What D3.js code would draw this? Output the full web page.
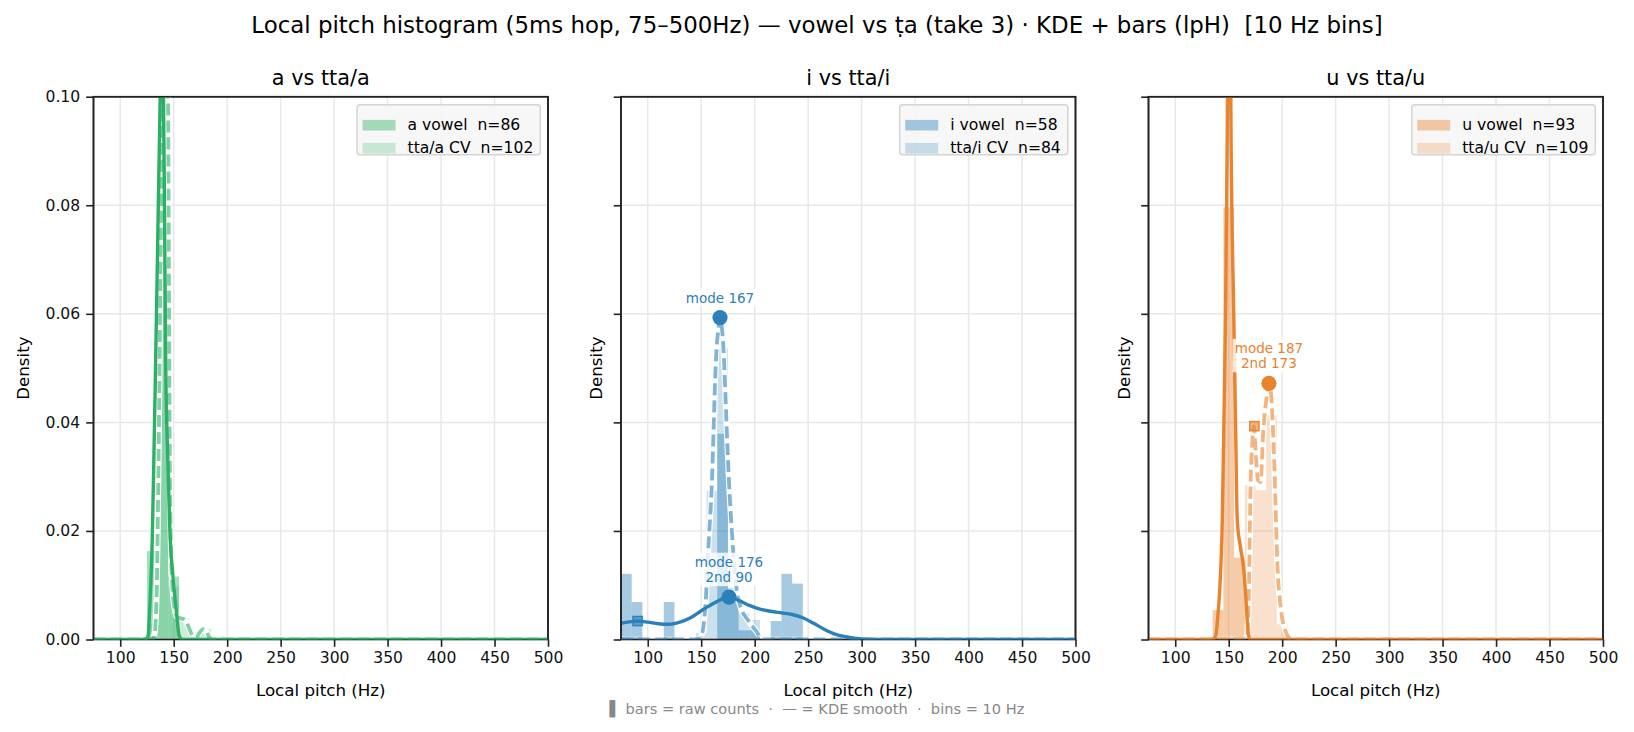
<!DOCTYPE html>
<html>
<head>
<meta charset="utf-8">
<script src="https://cdn.jsdelivr.net/npm/d3@7"></script>
<style>
  body { margin: 0; background: #fff; }
  text { font-family: "DejaVu Sans", sans-serif; }
</style>
</head>
<body>
<div id="chart"></div>
<script>
// ---------- data ----------
var binWidth = 10;
var xTicks = [100, 150, 200, 250, 300, 350, 400, 450, 500];
var yTicks = [0, 0.02, 0.04, 0.06, 0.08, 0.10];

// a vs tta/a : bar densities by bin lower edge
var aVowelBins = [125, 135, 145];
var aVowelDens = [0.0163, 0.0721, 0.0116];
var aCvBins = [125, 135, 145, 155, 165, 175];
var aCvDens = [0.0029, 0.0804, 0.0098, 0.0039, 0.0010, 0.0020];
// KDE curves (Hz, density)
var aVowelKdeX = [75, 120, 124, 126, 128, 130, 131.5, 133, 135, 137, 138.5, 139.5, 140.5, 141.5, 142.5, 144.5, 146.3, 149.4, 152.5, 155, 158, 200, 500];
var aVowelKdeY = [0, 0, 0.0001, 0.0006, 0.0075, 0.019, 0.034, 0.05, 0.073, 0.096, 0.112, 0.112, 0.099, 0.077, 0.0515, 0.033, 0.0207, 0.0114, 0.0052, 0.0008, 0, 0, 0];
var aCvKdeX = [75, 130, 132, 134, 135, 136, 137, 138.3, 139.5, 141, 142.5, 144, 145, 145.7, 146.3, 147.3, 149, 151, 153, 156, 159, 162, 165, 168, 171, 174, 177.5, 180.5, 183, 185.5, 188, 500];
var aCvKdeY = [0, 0, 0.001, 0.008, 0.02, 0.036, 0.055, 0.08, 0.1, 0.125, 0.13, 0.115, 0.09, 0.06, 0.035, 0.018, 0.009, 0.0055, 0.0042, 0.0039, 0.0038, 0.0032, 0.0018, 0.0006, 0.0004, 0.0012, 0.0019, 0.0015, 0.0005, 0.0001, 0, 0];

// i vs tta/i
var iVowelBins = [75, 85, 115, 165, 175, 185, 195, 215, 225, 235];
var iVowelDens = [0.0121, 0.0069, 0.0069, 0.0379, 0.0069, 0.0017, 0.0017, 0.0034, 0.0121, 0.0103];
var iCvBins = [145, 155, 165, 175, 185, 195];
var iCvDens = [0.0012, 0.0274, 0.0536, 0.0095, 0.0048, 0.0036];
var iVowelKdeX = [75, 85, 90, 100, 110, 120, 130, 140, 150, 160, 170, 176, 185, 195, 205, 215, 225, 235, 245, 255, 265, 275, 285, 300, 320, 500];
var iVowelKdeY = [0.0030, 0.0033, 0.0034, 0.0032, 0.0029, 0.0028, 0.0032, 0.0040, 0.0053, 0.0065, 0.0075, 0.0078, 0.0072, 0.0063, 0.0056, 0.0052, 0.0049, 0.0046, 0.0040, 0.0030, 0.0019, 0.0010, 0.0005, 0.0001, 0, 0];
var iCvKdeX = [75, 140, 148, 150, 152, 154.5, 156.7, 158.5, 160, 161.5, 163, 164.5, 166, 167.6, 169, 170.7, 172.3, 173.9, 176, 178.6, 181, 183.3, 186, 188, 191, 194, 198, 202, 206.6, 210, 500];
var iCvKdeY = [0, 0, 0.0001, 0.0006, 0.0023, 0.008, 0.017, 0.023, 0.029, 0.038, 0.0478, 0.054, 0.057, 0.0593, 0.058, 0.054, 0.047, 0.0386, 0.029, 0.0201, 0.0135, 0.009, 0.0065, 0.0053, 0.0043, 0.0035, 0.0024, 0.0014, 0.0001, 0, 0];
var iModeX = [167.6, 176];
var iModeY = [0.0593, 0.0078];
var iModeText = [["mode 167"], ["mode 176", "2nd 90"]];
var i2ndX = [90.5];
var i2ndY = [0.0034];

// u vs tta/u
var uVowelBins = [135, 145, 155];
var uVowelDens = [0.0054, 0.0796, 0.0151];
var uCvBins = [165, 175, 185, 195];
var uCvDens = [0.0284, 0.0275, 0.0413, 0.0028];
var uVowelKdeX = [75, 134, 136.5, 138, 139.5, 141.7, 144, 145.5, 147, 148.5, 150.5, 152.3, 154.8, 156.4, 158, 161, 164.2, 166.4, 168.3, 170, 500];
var uVowelKdeY = [0, 0, 0.0002, 0.0008, 0.0035, 0.0096, 0.022, 0.040, 0.059, 0.09, 0.14, 0.09, 0.059, 0.040, 0.022, 0.017, 0.0127, 0.0066, 0.0011, 0, 0];
var uCvKdeX = [75, 164, 166, 167.3, 168.8, 170.4, 172, 173.5, 175.1, 177.3, 179.8, 182.3, 185.4, 187.6, 189.3, 190.7, 192.2, 193.8, 195.4, 198.5, 203.2, 207.9, 210, 500];
var uCvKdeY = [0, 0, 0.0001, 0.0008, 0.008, 0.028, 0.036, 0.0393, 0.035, 0.0294, 0.029, 0.0383, 0.0445, 0.0472, 0.046, 0.0417, 0.035, 0.0247, 0.0144, 0.0062, 0.0015, 0.0001, 0, 0];
var uModeX = [187.6];
var uModeY = [0.0472];
var uModeText = [["mode 187", "2nd 173"]];
var u2ndX = [174];
var u2ndY = [0.0393];

function zip(a, b) { return a.map(function(v, k) { return [v, b[k]]; }); }

var panels = [
  { title: "a vs tta/a", color: "#2cb065", vowelLabel: "a vowel  n=86", cvLabel: "tta/a CV  n=102",
    vowelBars: zip(aVowelBins, aVowelDens), cvBars: zip(aCvBins, aCvDens),
    vowelKde: zip(aVowelKdeX, aVowelKdeY), cvKde: zip(aCvKdeX, aCvKdeY),
    modes: [], seconds: [] },
  { title: "i vs tta/i", color: "#2b80ba", vowelLabel: "i vowel  n=58", cvLabel: "tta/i CV  n=84",
    vowelBars: zip(iVowelBins, iVowelDens), cvBars: zip(iCvBins, iCvDens),
    vowelKde: zip(iVowelKdeX, iVowelKdeY), cvKde: zip(iCvKdeX, iCvKdeY),
    modes: iModeX.map(function(v, k) { return { x: v, y: iModeY[k], text: iModeText[k] }; }),
    seconds: zip(i2ndX, i2ndY) },
  { title: "u vs tta/u", color: "#e8832f", vowelLabel: "u vowel  n=93", cvLabel: "tta/u CV  n=109",
    vowelBars: zip(uVowelBins, uVowelDens), cvBars: zip(uCvBins, uCvDens),
    vowelKde: zip(uVowelKdeX, uVowelKdeY), cvKde: zip(uCvKdeX, uCvKdeY),
    modes: uModeX.map(function(v, k) { return { x: v, y: uModeY[k], text: uModeText[k] }; }),
    seconds: zip(u2ndX, u2ndY) }
];

// ---------- layout ----------
var W = 1634, H = 732;
var plotTop = 96.7, plotH = 542.8, plotW = 454.5;
var plotLefts = [93.5, 621, 1148.5];
var vowelAlpha = 0.42, cvAlpha = 0.24, lw = 3.4, dashLw = 3.8;

var svg = d3.select("#chart").append("svg")
    .attr("width", W).attr("height", H);

svg.append("text")
    .attr("x", W / 2).attr("y", 25)
    .attr("text-anchor", "middle").attr("dominant-baseline", "central")
    .style("font-size", "22.9px").style("white-space", "pre")
    .text("Local pitch histogram (5ms hop, 75\u2013500Hz) \u2014 vowel vs \u1e6da (take 3) \u00b7 KDE + bars (lpH)  [10 Hz bins]");

panels.forEach(function(p, i) {
  var left = plotLefts[i];
  var g = svg.append("g").attr("transform", "translate(" + left + "," + plotTop + ")");

  var x = d3.scaleLinear().domain([75, 500]).range([0, plotW]);
  var y = d3.scaleLinear().domain([0, 0.1]).range([plotH, 0]);

  g.append("clipPath").attr("id", "clip" + i)
    .append("rect").attr("width", plotW).attr("height", plotH);
  // halo stays off the bottom spine
  g.append("clipPath").attr("id", "cliph" + i)
    .append("rect").attr("width", plotW).attr("height", plotH - 3);

  // grid
  var grid = g.append("g");
  grid.selectAll("line.gx").data(xTicks).join("line")
      .attr("x1", function(d) { return x(d); }).attr("x2", function(d) { return x(d); })
      .attr("y1", 0).attr("y2", plotH)
      .attr("stroke", "#e8e8e8").attr("stroke-width", 1.5);
  grid.selectAll("line.gy").data(yTicks).join("line")
      .attr("y1", function(d) { return y(d); }).attr("y2", function(d) { return y(d); })
      .attr("x1", 0).attr("x2", plotW)
      .attr("stroke", "#e8e8e8").attr("stroke-width", 1.5);

  var bars = g.append("g").attr("clip-path", "url(#clip" + i + ")");

  // bars
  function drawBars(data, alpha) {
    bars.append("g").selectAll("rect").data(data).join("rect")
        .attr("x", function(d) { return x(d[0]); })
        .attr("width", function(d) { return x(d[0] + binWidth) - x(d[0]); })
        .attr("y", function(d) { return y(d[1]); })
        .attr("height", function(d) { return plotH - y(d[1]); })
        .attr("fill", p.color).attr("fill-opacity", alpha);
  }
  drawBars(p.vowelBars, vowelAlpha);
  drawBars(p.cvBars, cvAlpha);

  // spines go under the KDE lines so the zero-level line tints the bottom edge
  g.append("rect").attr("width", plotW).attr("height", plotH)
      .attr("fill", "none").attr("stroke", "#222").attr("stroke-width", 1.6);

  var line = d3.line()
      .x(function(d) { return x(d[0]); })
      .y(function(d) { return y(d[1]); })
      .curve(d3.curveMonotoneX);

  // CV KDE: dashed, with a thin white halo
  g.append("path").datum(p.cvKde)
      .attr("clip-path", "url(#cliph" + i + ")")
      .attr("d", line).attr("fill", "none")
      .attr("stroke", "#fff").attr("stroke-width", dashLw + 2.2)
      .attr("stroke-linejoin", "round");
  var lines = g.append("g").attr("clip-path", "url(#clip" + i + ")");
  lines.append("path").datum(p.cvKde)
      .attr("d", line).attr("fill", "none")
      .attr("stroke", p.color).attr("stroke-width", dashLw)
      .attr("stroke-opacity", 0.6).attr("stroke-dasharray", "12,5")
      .attr("stroke-linejoin", "round");
  // vowel KDE: solid, on top
  lines.append("path").datum(p.vowelKde)
      .attr("d", line).attr("fill", "none")
      .attr("stroke", p.color).attr("stroke-width", lw)
      .attr("stroke-linejoin", "round");

  // secondary-mode squares
  g.selectAll("rect.sec").data(p.seconds).join("rect")
      .attr("x", function(d) { return x(d[0]) - 4.6; })
      .attr("y", function(d) { return y(d[1]) - 4.6; })
      .attr("width", 9.2).attr("height", 9.2)
      .attr("fill", p.color).attr("fill-opacity", 0.6)
      .attr("stroke", p.color).attr("stroke-width", 1.4);

  // mode circles + labels
  p.modes.forEach(function(m) {
    var cx = x(m.x), cy = y(m.y);
    g.append("circle").attr("cx", cx).attr("cy", cy).attr("r", 7.6).attr("fill", p.color);
    var lab = g.append("g");
    var bg = lab.append("rect").attr("fill", "#fff").attr("fill-opacity", 0.8);
    var t = lab.append("text").attr("text-anchor", "middle")
        .attr("fill", p.color).style("font-size", "13.5px");
    var n = m.text.length;
    m.text.forEach(function(s, k) {
      t.append("tspan").attr("x", cx)
          .attr("y", cy - 20 - (n - 1 - k) * 15.5)
          .attr("dominant-baseline", "central")
          .text(s);
    });
    var bb = t.node().getBBox();
    bg.attr("x", bb.x - 2).attr("y", bb.y - 1).attr("width", bb.width + 4).attr("height", bb.height + 2);
  });

  // axes
  var xAxis = g.append("g").attr("transform", "translate(0," + plotH + ")")
      .call(d3.axisBottom(x).tickValues(xTicks).tickSize(7.3).tickPadding(5));
  var yAxis = g.append("g")
      .call(d3.axisLeft(y).tickValues(yTicks).tickSize(7.3).tickPadding(6)
        .tickFormat(i === 0 ? d3.format(".2f") : function() { return ""; }));
  [xAxis, yAxis].forEach(function(a) {
    a.select(".domain").remove();
    a.selectAll(".tick line").attr("stroke", "#222").attr("stroke-width", 1.6);
    a.selectAll(".tick text").attr("fill", "#111")
        .style("font-family", "'DejaVu Sans', sans-serif").style("font-size", "15.6px");
  });

  // left, top and right spines back on top
  g.append("path")
      .attr("d", "M0," + plotH + "V0H" + plotW + "V" + plotH)
      .attr("fill", "none").attr("stroke", "#222").attr("stroke-width", 1.6);

  // titles & labels
  g.append("text").attr("x", plotW / 2).attr("y", 78 - plotTop)
      .attr("text-anchor", "middle").attr("dominant-baseline", "central")
      .style("font-size", "20.8px").text(p.title);
  g.append("text").attr("x", plotW / 2).attr("y", 690 - plotTop)
      .attr("text-anchor", "middle").attr("dominant-baseline", "central")
      .style("font-size", "16.7px").text("Local pitch (Hz)");
  var ylx = i === 0 ? 23 - left : -25;
  g.append("text")
      .attr("transform", "translate(" + ylx + "," + (plotH / 2) + ") rotate(-90)")
      .attr("text-anchor", "middle").attr("dominant-baseline", "central")
      .style("font-size", "16.7px").text("Density");

  // legend
  var leg = g.append("g");
  var legBox = leg.append("rect").attr("rx", 3).attr("ry", 3)
      .attr("fill", "#f6f6f6").attr("fill-opacity", 0.9)
      .attr("stroke", "#d4d4d4").attr("stroke-width", 1.5);
  var entries = [[p.vowelLabel, vowelAlpha], [p.cvLabel, cvAlpha]];
  var maxW = 0;
  entries.forEach(function(e, k) {
    var cy = 20.5 + k * 23;
    leg.append("rect").attr("x", 5.5).attr("y", cy - 5.3).attr("width", 33).attr("height", 10.6)
        .attr("fill", p.color).attr("fill-opacity", e[1]);
    var tx = leg.append("text").attr("x", 50.5).attr("y", cy)
        .attr("dominant-baseline", "central")
        .style("font-size", "15.6px").style("white-space", "pre")
        .text(e[0]);
    maxW = Math.max(maxW, tx.node().getComputedTextLength());
  });
  var legW = 50.5 + maxW + 7;
  legBox.attr("width", legW).attr("height", 50);
  leg.attr("transform", "translate(" + (plotW - 7.7 - legW) + ",8)");
});

// footer note
svg.append("text")
    .attr("x", W / 2).attr("y", 708)
    .attr("text-anchor", "middle").attr("dominant-baseline", "central")
    .attr("fill", "#888").style("font-size", "14.6px").style("white-space", "pre")
    .text("\u258c bars = raw counts  \u00b7  \u2014 = KDE smooth  \u00b7  bins = 10 Hz");
</script>
</body>
</html>
